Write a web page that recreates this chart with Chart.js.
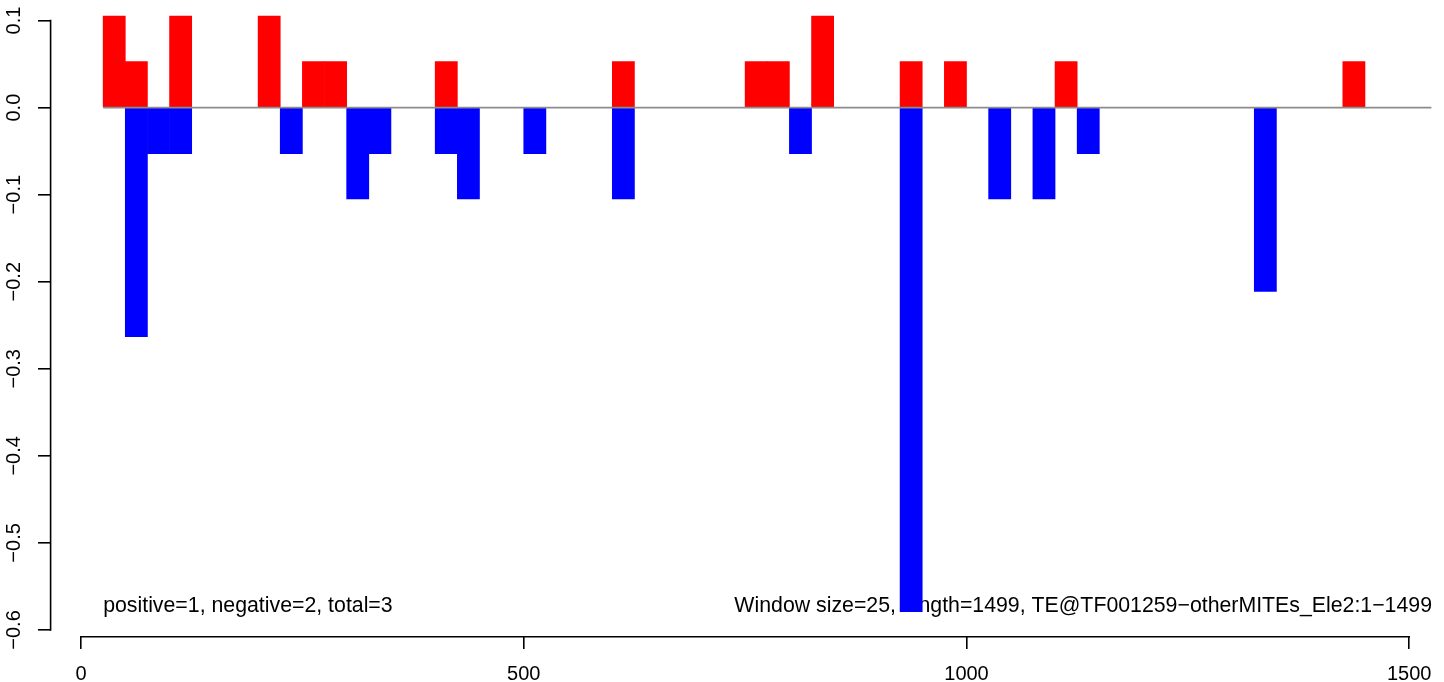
<!DOCTYPE html>
<html>
<head>
<meta charset="utf-8">
<script src="https://cdn.jsdelivr.net/npm/chart.js@4.4.0/dist/chart.umd.min.js"></script>
<style>
  html, body { margin: 0; padding: 0; background: #fff; }
  #wrap { width: 1444px; height: 682px; }
</style>
</head>
<body>
<div id="wrap"><canvas id="windowChart"></canvas></div>
<script>
// scan window
const windowSize = 25;

// windows (start position) with a positive score
const positiveStarts = [25, 50, 100, 200, 250, 275, 400, 600, 750, 775, 825, 925, 975, 1100, 1425];
const positiveValues = [0.105, 0.053, 0.105, 0.105, 0.053, 0.053, 0.053, 0.053, 0.053, 0.053, 0.105, 0.053, 0.053, 0.053, 0.053];

// windows with a negative score
const negativeStarts = [50, 75, 100, 225, 300, 325, 400, 425, 500, 600, 800, 925, 1025, 1075, 1125, 1325];
const negativeValues = [-0.263, -0.053, -0.053, -0.053, -0.105, -0.053, -0.053, -0.105, -0.053, -0.105, -0.053, -0.579, -0.105, -0.105, -0.053, -0.211];

// grey zero line
const baselineX = [25, 1525];

// axis ticks
const xTicks = [0, 500, 1000, 1500];
const yTicks = [-0.6, -0.5, -0.4, -0.3, -0.2, -0.1, 0, 0.1];

// notes at the bottom of the plot
const leftNote = 'positive=1, negative=2, total=3';
const leftNoteX = 25;
const rightNote = 'Window size=25, length=1499, TE@TF001259\u2212otherMITEs_Ele2:1\u22121499';

const FONT = '"Liberation Sans", Arial, Helvetica, sans-serif';
const AXIS_W = 1.6;

function toPoints(starts, values) {
    return starts.map((s, i) => ({ x: s + windowSize / 2, y: values[i] }));
}

function fmtY(v) {
    return (v < 0 ? '\u2212' : '') + Math.abs(v).toFixed(1);
}

// R-like axis lines (only between first and last tick) + notes
const baseAxes = {
    id: 'baseAxes',
    beforeDatasetsDraw(chart) {
        const { ctx, chartArea, scales: { x } } = chart;
        ctx.save();
        ctx.font = '21.3px ' + FONT;
        ctx.fillStyle = '#000';
        ctx.textBaseline = 'alphabetic';
        const ty = chartArea.bottom - 24;
        ctx.textAlign = 'left';
        ctx.fillText(leftNote, x.getPixelForValue(leftNoteX), ty);
        ctx.textAlign = 'right';
        ctx.fillText(rightNote, chartArea.right, ty);
        ctx.restore();
    },
    afterDraw(chart) {
        const { ctx, chartArea, scales: { x, y } } = chart;
        ctx.save();
        ctx.strokeStyle = '#000';
        ctx.lineWidth = AXIS_W;
        ctx.lineCap = 'square';
        ctx.beginPath();
        const ax = chartArea.left - 0.4;
        ctx.moveTo(ax, y.getPixelForValue(yTicks[yTicks.length - 1]));
        ctx.lineTo(ax, y.getPixelForValue(yTicks[0]));
        const ay = chartArea.bottom + 0.7;
        ctx.moveTo(x.getPixelForValue(xTicks[0]), ay);
        ctx.lineTo(x.getPixelForValue(xTicks[xTicks.length - 1]), ay);
        ctx.stroke();
        ctx.restore();
    }
};

document.addEventListener('DOMContentLoaded', function() {
    Chart.defaults.font.family = FONT;
    Chart.defaults.font.size = 20;
    Chart.defaults.color = '#000';

    const ctx = document.getElementById('windowChart').getContext('2d');
    new Chart(ctx, {
        type: 'bar',
        data: {
            datasets: [{
                type: 'line',
                data: baselineX.map(v => ({ x: v, y: 0 })),
                borderColor: '#8c8c8c',
                borderWidth: 1.6,
                pointRadius: 0,
                order: 0
            }, {
                data: toPoints(positiveStarts, positiveValues),
                backgroundColor: '#ff0000',
                borderWidth: 0,
                grouped: false,
                barPercentage: 1,
                categoryPercentage: 1,
                order: 1
            }, {
                data: toPoints(negativeStarts, negativeValues),
                backgroundColor: '#0000ff',
                borderWidth: 0,
                grouped: false,
                barPercentage: 1,
                categoryPercentage: 1,
                order: 1
            }]
        },
        options: {
            responsive: true,
            maintainAspectRatio: false,
            animation: false,
            devicePixelRatio: 1,
            layout: { padding: { left: 0, right: 12, top: 0, bottom: 0 } },
            plugins: {
                legend: { display: false },
                tooltip: { enabled: false }
            },
            scales: {
                x: {
                    type: 'linear',
                    min: -33.9,
                    max: 1525.7,
                    offset: false,
                    border: { display: false },
                    grid: { display: true, drawOnChartArea: false, drawTicks: true, tickLength: 13, color: '#000', lineWidth: AXIS_W, offset: false },
                    ticks: { padding: 13, maxRotation: 0, autoSkip: false, callback: v => String(v) },
                    afterBuildTicks: s => { s.ticks = xTicks.map(v => ({ value: v })); },
                    afterFit: s => { s.height = 46; s.paddingLeft = 0; s.paddingRight = 0; }
                },
                y: {
                    type: 'linear',
                    min: -0.6069,
                    max: 0.1236,
                    border: { display: false },
                    grid: { display: true, drawOnChartArea: false, drawTicks: true, tickLength: 13, color: '#000', lineWidth: AXIS_W },
                    ticks: { padding: 4, minRotation: 90, maxRotation: 90, crossAlign: 'center', autoSkip: false, callback: v => fmtY(v) },
                    afterBuildTicks: s => { s.ticks = yTicks.map(v => ({ value: v })); },
                    afterFit: s => { s.width = 51; s.paddingTop = 0; s.paddingBottom = 0; }
                }
            }
        },
        plugins: [baseAxes]
    });
});
</script>
</body>
</html>
